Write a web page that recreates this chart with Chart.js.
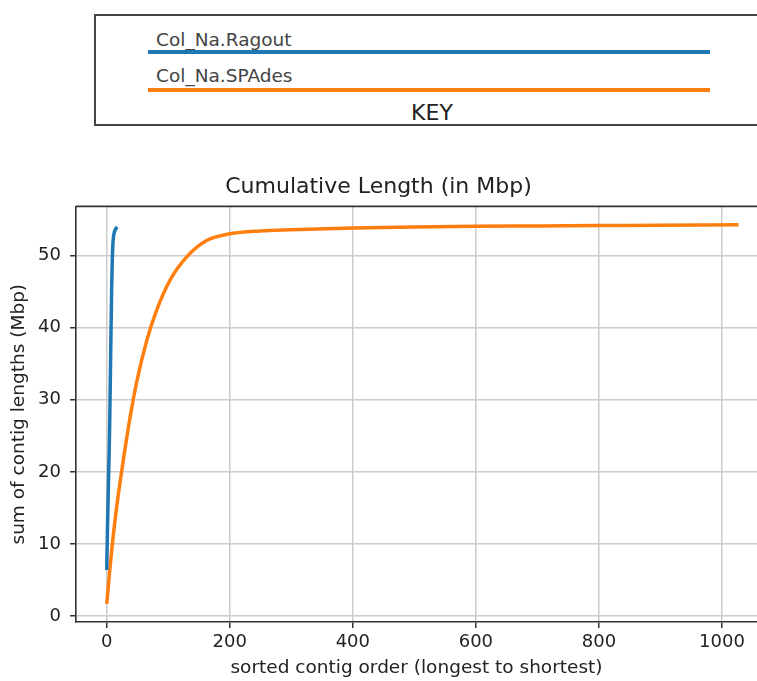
<!DOCTYPE html>
<html>
<head>
<meta charset="utf-8">
<script src="https://cdn.jsdelivr.net/npm/chart.js@4"></script>
<style>
  html, body { margin: 0; padding: 0; background: #fff; overflow: hidden; }
  body { width: 757px; height: 681px; position: relative; font-family: "DejaVu Sans", sans-serif; }
  #chart { position: absolute; left: 0; top: 0; }
  #key {
    position: absolute; left: 94px; top: 14px; width: 700px; height: 108px;
    border: 2px solid #444; background: #fff; z-index: 2;
  }
  .key-label { position: absolute; left: 60px; font-size: 18.5px; color: #444; line-height: 22px; }
  .key-line { position: absolute; left: 52px; width: 562px; height: 3.5px; }
  #key-title { position: absolute; left: 0; width: 672px; text-align: center; top: 84px; font-size: 22px; color: #222; line-height: 26px; }
</style>
</head>
<body>
<div id="key"></div>
<canvas id="chart" width="757" height="681"></canvas>
<script>
// series names and colours
const seriesNames = ["Col_Na.Ragout", "Col_Na.SPAdes"];
const seriesColors = ["#1f77b4", "#ff7f0e"];

// Ragout: contig order vs cumulative length (Mbp)
const ragoutX = [0, 1, 2, 3, 4, 5, 6, 7, 8, 9, 10, 11, 12, 13, 14, 15, 16, 17];
const ragoutY = [6.4, 11.5, 15.5, 19.5, 23.0, 28.0, 34.0, 40.0, 45.5, 49.5, 51.6, 52.6, 53.1, 53.4, 53.6, 53.75, 53.85, 53.95];

// SPAdes
const spadesX = [0, 3, 5, 8, 11, 15, 19, 27, 38, 49, 65, 81, 103, 130, 163, 200, 250, 300, 400, 500, 600, 700, 800, 900, 1027];
const spadesY = [1.7, 4.6, 6.5, 9.1, 11.5, 14.4, 17.0, 21.7, 27.6, 32.6, 38.2, 42.4, 46.6, 49.8, 52.1, 53.0, 53.4, 53.55, 53.8, 53.95, 54.05, 54.1, 54.15, 54.2, 54.25];

const xTicks = [0, 200, 400, 600, 800, 1000];
const yTicks = [0, 10, 20, 30, 40, 50];

const FONT = "'DejaVu Sans', sans-serif";

// build the key box
const key = document.getElementById('key');
const labelTops = [13, 49];
const lineTops = [34, 72];
seriesNames.forEach((name, i) => {
    const lbl = document.createElement('div');
    lbl.className = 'key-label';
    lbl.style.top = labelTops[i] + 'px';
    lbl.textContent = name;
    key.appendChild(lbl);
    const ln = document.createElement('div');
    ln.className = 'key-line';
    ln.style.top = lineTops[i] + 'px';
    ln.style.background = seriesColors[i];
    key.appendChild(ln);
});
const kt = document.createElement('div');
kt.id = 'key-title';
kt.textContent = 'KEY';
key.appendChild(kt);

function toPoints(xs, ys) {
    return xs.map((x, i) => ({ x: x, y: ys[i] }));
}

// top spine like matplotlib
const topSpine = {
    id: 'topSpine',
    afterDatasetsDraw(chart) {
        const { ctx, chartArea } = chart;
        ctx.save();
        ctx.strokeStyle = '#333';
        ctx.lineWidth = 1.6;
        ctx.beginPath();
        ctx.moveTo(chartArea.left, chartArea.top);
        ctx.lineTo(chartArea.right, chartArea.top);
        ctx.stroke();
        ctx.restore();
    }
};

new Chart(document.getElementById('chart').getContext('2d'), {
    type: 'line',
    data: {
        datasets: [
            {
                label: seriesNames[0],
                data: toPoints(ragoutX, ragoutY),
                borderColor: seriesColors[0],
                borderWidth: 3.5,
                pointRadius: 0,
                cubicInterpolationMode: 'monotone',
                fill: false,
            },
            {
                label: seriesNames[1],
                data: toPoints(spadesX, spadesY),
                borderColor: seriesColors[1],
                borderWidth: 3.5,
                pointRadius: 0,
                cubicInterpolationMode: 'monotone',
                fill: false,
            },
        ]
    },
    options: {
        responsive: false,
        animation: false,
        layout: { padding: { top: 170, left: 0, right: 0, bottom: 0 } },
        plugins: {
            legend: { display: false },
            tooltip: { enabled: false },
            title: {
                display: true,
                text: 'Cumulative Length (in Mbp)',
                color: '#222',
                font: { family: FONT, size: 22, weight: 'normal' },
                padding: { top: 4, bottom: 6 },
            }
        },
        scales: {
            x: {
                type: 'linear',
                min: -50,
                max: 1057,
                afterFit: (scale) => { scale.height = 59; },
                afterBuildTicks: (scale) => { scale.ticks = xTicks.map(v => ({ value: v })); },
                ticks: {
                    color: '#222',
                    font: { family: FONT, size: 18 },
                    padding: 4,
                    maxRotation: 0,
                    callback: (v) => String(v),
                },
                grid: { color: '#cccccc', lineWidth: 1.5, tickColor: '#333', tickLength: 6 },
                border: { color: '#333', width: 1.6 },
                title: {
                    display: true,
                    text: 'sorted contig order (longest to shortest)',
                    color: '#222',
                    font: { family: FONT, size: 18.5 },
                    padding: { top: 0, bottom: 2 },
                }
            },
            y: {
                type: 'linear',
                min: -0.8,
                max: 56.8,
                afterFit: (scale) => { scale.width = 76; },
                afterBuildTicks: (scale) => { scale.ticks = yTicks.map(v => ({ value: v })); },
                ticks: {
                    color: '#222',
                    font: { family: FONT, size: 18 },
                    padding: 9,
                    callback: (v) => String(v),
                },
                grid: { color: '#cccccc', lineWidth: 1.5, tickColor: '#333', tickLength: 6 },
                border: { color: '#333', width: 1.6 },
                title: {
                    display: true,
                    text: 'sum of contig lengths (Mbp)',
                    color: '#222',
                    font: { family: FONT, size: 18.5 },
                    padding: { top: 8, bottom: 0 },
                }
            }
        }
    },
    plugins: [topSpine]
});
</script>
</body>
</html>
